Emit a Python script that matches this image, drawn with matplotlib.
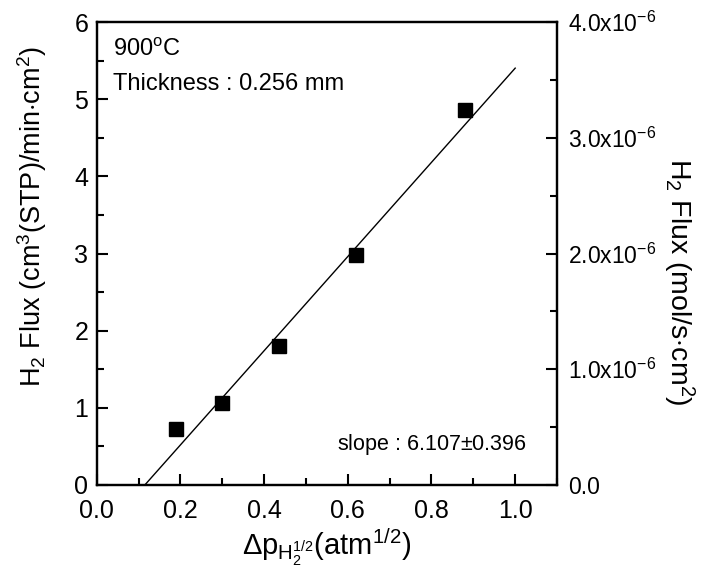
import matplotlib
matplotlib.use("Agg")
import matplotlib.pyplot as plt
from matplotlib.ticker import MultipleLocator, FuncFormatter
import numpy as np

plt.rcParams['font.family'] = ['Liberation Sans', 'DejaVu Sans']
plt.rcParams['mathtext.fontset'] = 'custom'
plt.rcParams['mathtext.rm'] = 'Liberation Sans'
plt.rcParams['mathtext.it'] = 'Liberation Sans'
plt.rcParams['mathtext.bf'] = 'Liberation Sans:bold'

# measured H2 flux vs pressure-driving force
dp_sqrt = [0.19, 0.30, 0.435, 0.62, 0.88]
flux_ccm = [0.72, 1.06, 1.80, 2.98, 4.86]

# linear fit reported on the chart
fit_slope = 6.107
fit_x = [0.115, 1.0]

# right-axis conversion: 6 cm3(STP)/min.cm2 <-> 4.0e-6 mol/s.cm2
right_max = 4.0e-6
left_max = 6.0

fig = plt.figure(figsize=(7.06, 5.85), dpi=100)
ax = fig.add_axes([0.137, 0.171, 0.652, 0.791])

fit_y = [fit_slope * (x - fit_x[0]) for x in fit_x]
ax.plot(fit_x, fit_y, color='black', lw=1.0)
ax.plot(dp_sqrt, flux_ccm, 's', color='black', ms=9.5)

ax.set_xlim(0, 1.1)
ax.set_ylim(0, left_max)
ax.xaxis.set_major_locator(MultipleLocator(0.2))
ax.xaxis.set_minor_locator(MultipleLocator(0.1))
ax.yaxis.set_major_locator(MultipleLocator(1))
ax.yaxis.set_minor_locator(MultipleLocator(0.5))
ax.xaxis.set_major_formatter(FuncFormatter(lambda v, p: f"{v:.1f}"))
ax.tick_params(which='both', direction='in', labelsize=18, width=1.5, top=False, right=False)
ax.tick_params(which='major', length=8)
ax.tick_params(which='minor', length=5)
ax.tick_params(axis='x', which='major', pad=10)
ax.tick_params(axis='y', which='major', pad=6)
for s in ax.spines.values():
    s.set_linewidth(1.6)

ax.set_xlabel(r'$\Delta p_{\mathrm{H}_2^{1/2}}$(atm$^{1/2}$)', fontsize=21, labelpad=2)
ax.set_ylabel(r'H$_2$ Flux (cm$^3$(STP)/min$\cdot$cm$^2$)', fontsize=19.5, va='center')
ax.yaxis.set_label_coords(-0.14, 0.58)

ax2 = ax.twinx()
ax2.set_ylim(0, right_max)
ax2.yaxis.set_major_locator(MultipleLocator(1.0e-6))
ax2.yaxis.set_minor_locator(MultipleLocator(0.5e-6))


def sci_fmt(v, p):
    if abs(v) < 1e-12:
        return "0.0"
    return r"%.1fx10$^{-6}$" % (v / 1e-6)


ax2.yaxis.set_major_formatter(FuncFormatter(sci_fmt))
ax2.yaxis.get_offset_text().set_visible(False)
ax2.tick_params(which='both', direction='in', labelsize=16.5, width=1.5)
ax2.tick_params(which='major', length=8, pad=8)
ax2.tick_params(which='minor', length=5)
for s in ax2.spines.values():
    s.set_linewidth(1.6)
ax2.set_ylabel(r'H$_2$ Flux (mol/s$\cdot$cm$^2$)', fontsize=20.5, rotation=270, va='center')
ax2.yaxis.set_label_coords(1.265, 0.44)

ax.text(0.035, 0.965, r'900$^{\rm o}$C', transform=ax.transAxes, fontsize=17, va='top')
ax.text(0.035, 0.89, 'Thickness : 0.256 mm', transform=ax.transAxes, fontsize=17, va='top')
ax.text(0.935, 0.06, r'slope : 6.107$\pm$0.396', transform=ax.transAxes, fontsize=15.5,
        ha='right', va='bottom')

fig.savefig('out.png', dpi=100)
